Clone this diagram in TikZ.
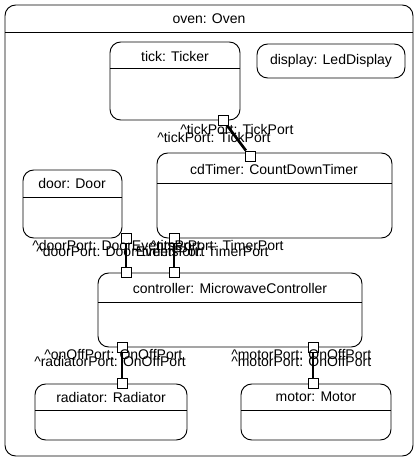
\documentclass[tikz,border=0pt]{standalone}
\usepackage{fontspec}
\setmainfont{Liberation Sans}
\begin{document}
\begin{tikzpicture}[x=0.75pt,y=-0.75pt,
  box/.style={draw,rounded corners=8pt,line width=0.7pt},
  port/.style={draw,fill=white,minimum size=7.5pt,inner sep=0pt,line width=0.7pt},
  conn/.style={line width=2pt},
  lbl/.style={font=\fontsize{10.5}{12}\selectfont,inner sep=0pt},
  ttl/.style={font=\fontsize{10.5}{12}\selectfont,inner sep=0pt}]
\useasboundingbox (0,0) rectangle (419,461);
% outer
\draw[box] (5,5) rectangle (413,456);
\draw[line width=0.7pt] (5,32) -- (413,32);
\node[ttl] (oven) at (209,19) {oven: Oven};
% ticker
\draw[box] (110,42) rectangle (240,120);
\draw[line width=0.7pt] (110,68) -- (240,68);
\node[ttl] (tick) at (175,56) {tick: Ticker};
% display
\draw[box] (257,44) rectangle (405,78);
\node[ttl] (disp) at (331,61) {display: LedDisplay};
% door
\draw[box] (23,170) rectangle (122,238);
\draw[line width=0.7pt] (23,197) -- (122,197);
\node[ttl] (door) at (72,183) {door: Door};
% cdTimer
\draw[box] (157,153) rectangle (392,238);
\draw[line width=0.7pt] (157,183) -- (392,183);
\node[ttl] (cd) at (274,169) {cdTimer: CountDownTimer};
% controller
\draw[box] (98,273) rectangle (362,347);
\draw[line width=0.7pt] (98,302) -- (362,302);
\node[ttl] (ctrl) at (230,288) {controller: MicrowaveController};
% radiator
\draw[box] (35,384) rectangle (187,440);
\draw[line width=0.7pt] (35,410) -- (187,410);
\node[ttl] (rad) at (111,397) {radiator: Radiator};
% motor
\draw[box] (241,384) rectangle (391,440);
\draw[line width=0.7pt] (241,410) -- (391,410);
\node[ttl] (mot) at (316,397) {motor: Motor};
% ports
\node[port] (pt1) at (223,120) {};
\node[port] (pt2) at (250,156) {};
\node[port] (pd1) at (126,238) {};
\node[port] (pd2) at (174,238) {};
\node[port] (pc1) at (126,272) {};
\node[port] (pc2) at (174,272) {};
\node[port] (pc3) at (122,347) {};
\node[port] (pr) at (122,383) {};
\node[port] (pc4) at (313,347) {};
\node[port] (pm) at (313,383) {};
% connectors
\draw[conn] (pt1) -- (pt2);
\draw[conn] (pd1) -- (pc1);
\draw[conn] (pd2) -- (pc2);
\draw[conn] (pc3) -- (pr);
\draw[conn] (pc4) -- (pm);
% port labels
\node[lbl,anchor=west] (l1) at (180,129) {\^{}tickPort: TickPort};
\node[lbl,anchor=west] (l2) at (157,137) {\^{}tickPort: TickPort};
\node[lbl,anchor=west] (l3) at (32,245) {\^{}doorPort: DoorEventsPort};
\node[lbl,anchor=west] (l4) at (36,251) {\^{}doorPort: DoorEventsPort};
\node[lbl,anchor=west] (l5) at (150,245) {\^{}timerPort: TimerPort};
\node[lbl,anchor=west] (l6) at (135,251) {\^{}timerPort: TimerPort};
\node[lbl,anchor=west] (l7) at (44,354) {\^{}onOffPort: OnOffPort};
\node[lbl,anchor=west] (l8) at (34,361) {\^{}radiatorPort: OnOffPort};
\node[lbl,anchor=west] (l9) at (231,354) {\^{}motorPort: OnOffPort};
\node[lbl,anchor=west] (l10) at (231,361) {\^{}motorPort: OnOffPort};
\end{tikzpicture}
\end{document}
